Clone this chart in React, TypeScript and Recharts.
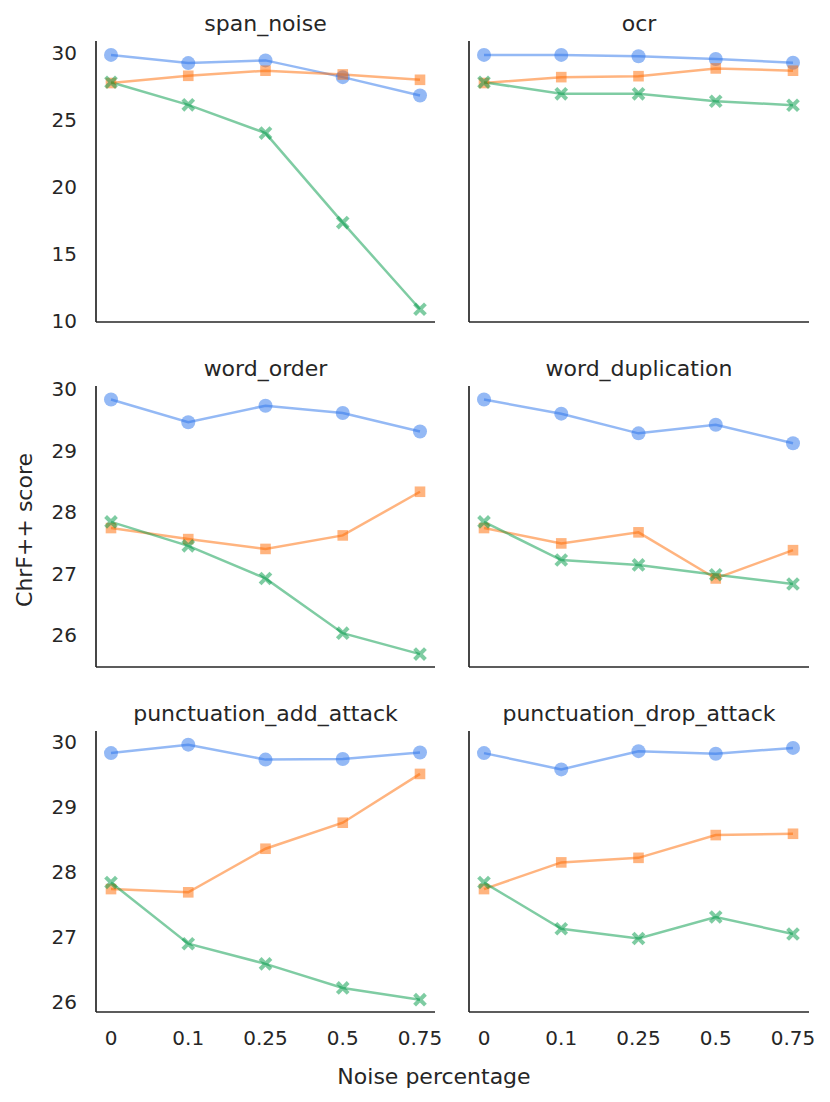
import React from 'react';
import { LineChart, Line, XAxis, YAxis } from 'recharts';

// ---------- data ----------
const categories = ['0', '0.1', '0.25', '0.5', '0.75'];
const panelTitles = ['span_noise', 'ocr', 'word_order', 'word_duplication', 'punctuation_add_attack', 'punctuation_drop_attack'];

const spanNoiseBlue = [29.86, 29.25, 29.45, 28.2, 26.83];
const spanNoiseOrange = [27.76, 28.3, 28.68, 28.4, 28.0];
const spanNoiseGreen = [27.82, 26.13, 24.02, 17.33, 10.85];

const ocrBlue = [29.86, 29.86, 29.76, 29.56, 29.28];
const ocrOrange = [27.76, 28.2, 28.27, 28.85, 28.68];
const ocrGreen = [27.82, 26.95, 26.95, 26.4, 26.1];

const wordOrderBlue = [29.83, 29.46, 29.73, 29.61, 29.31];
const wordOrderOrange = [27.74, 27.56, 27.4, 27.62, 28.33];
const wordOrderGreen = [27.84, 27.45, 26.92, 26.03, 25.69];

const wordDupBlue = [29.83, 29.6, 29.28, 29.42, 29.12];
const wordDupOrange = [27.74, 27.49, 27.67, 26.92, 27.38];
const wordDupGreen = [27.84, 27.22, 27.14, 26.98, 26.83];

const punctAddBlue = [29.83, 29.96, 29.73, 29.74, 29.84];
const punctAddOrange = [27.74, 27.69, 28.36, 28.76, 29.51];
const punctAddGreen = [27.84, 26.9, 26.59, 26.22, 26.04];

const punctDropBlue = [29.83, 29.58, 29.86, 29.82, 29.91];
const punctDropOrange = [27.74, 28.15, 28.22, 28.57, 28.59];
const punctDropGreen = [27.84, 27.13, 26.98, 27.31, 27.05];

const rowDomains: [number, number][] = [[9.9, 30.9], [25.48, 30.05], [25.85, 30.17]];
const rowTicks = [[10, 15, 20, 25, 30], [26, 27, 28, 29, 30], [26, 27, 28, 29, 30]];

const blueSeries = [spanNoiseBlue, ocrBlue, wordOrderBlue, wordDupBlue, punctAddBlue, punctDropBlue];
const orangeSeries = [spanNoiseOrange, ocrOrange, wordOrderOrange, wordDupOrange, punctAddOrange, punctDropOrange];
const greenSeries = [spanNoiseGreen, ocrGreen, wordOrderGreen, wordDupGreen, punctAddGreen, punctDropGreen];

// ---------- style ----------
const FONT = 'DejaVu Sans, Verdana, sans-serif';
const TEXT = '#262626';
const BLUE = '#2a73eb';
const ORANGE = '#ff6a00';
const GREEN = '#009a48';
const OP = 0.5;

const rowTops = [41, 386, 731];
const plotH = 281;
const colAxisLeft = [96, 469];
const colAxisRight = [435, 809];

const circleDot = (props: any) => {
  const { cx, cy, index } = props;
  if (cx == null || cy == null) return <g key={`c-${index}`} />;
  return <circle key={`c-${index}`} cx={cx} cy={cy} r={7} fill={BLUE} fillOpacity={OP} />;
};
const squareDot = (props: any) => {
  const { cx, cy, index } = props;
  if (cx == null || cy == null) return <g key={`s-${index}`} />;
  return <rect key={`s-${index}`} x={cx - 5.3} y={cy - 5.3} width={10.6} height={10.6} fill={ORANGE} fillOpacity={OP} />;
};
const xDot = (props: any) => {
  const { cx, cy, index } = props;
  if (cx == null || cy == null) return <g key={`x-${index}`} />;
  const s = 5.4;
  return (
    <g key={`x-${index}`} opacity={OP}>
      <line x1={cx - s} y1={cy - s} x2={cx + s} y2={cy + s} stroke={GREEN} strokeWidth={4} />
      <line x1={cx - s} y1={cy + s} x2={cx + s} y2={cy - s} stroke={GREEN} strokeWidth={4} />
    </g>
  );
};

function Panel({ idx }: { idx: number }) {
  const row = Math.floor(idx / 2);
  const col = idx % 2;
  const data = categories.map((c, i) => ({
    x: c,
    blue: blueSeries[idx][i],
    orange: orangeSeries[idx][i],
    green: greenSeries[idx][i],
  }));
  const svgLeft = col === 0 ? 0 : 440;
  const svgWidth = col === 0 ? 460 : 390;
  const yAxisW = colAxisLeft[col] - svgLeft;
  const marginRight = svgLeft + svgWidth - colAxisRight[col];
  const xH = row === 2 ? 50 : 2;
  const top = rowTops[row] - 10;
  const height = 10 + plotH + xH + 10;
  return (
    <div style={{ position: 'absolute', left: svgLeft, top, width: svgWidth, height }}>
      <LineChart width={svgWidth} height={height} data={data} margin={{ top: 10, right: marginRight, bottom: 10, left: 0 }}>
        <XAxis
          dataKey="x"
          type="category"
          padding={{ left: 15, right: col === 0 ? 15 : 16 }}
          axisLine={{ stroke: TEXT, strokeWidth: 1.7 }}
          tickLine={false}
          tickSize={0}
          tickMargin={19}
          height={xH}
          tick={row === 2 ? { fill: TEXT, fontSize: 20, fontFamily: FONT } : false}
          interval={0}
        />
        <YAxis
          type="number"
          domain={rowDomains[row]}
          ticks={rowTicks[row]}
          allowDataOverflow
          interval={0}
          width={yAxisW}
          axisLine={{ stroke: TEXT, strokeWidth: 1.7 }}
          tickLine={false}
          tickSize={0}
          tickMargin={19}
          tick={col === 0 ? { fill: TEXT, fontSize: 20, fontFamily: FONT } : false}
        />
        <Line dataKey="blue" stroke={BLUE} strokeOpacity={OP} strokeWidth={2.5} dot={circleDot} activeDot={false} isAnimationActive={false} />
        <Line dataKey="orange" stroke={ORANGE} strokeOpacity={OP} strokeWidth={2.5} dot={squareDot} activeDot={false} isAnimationActive={false} />
        <Line dataKey="green" stroke={GREEN} strokeOpacity={OP} strokeWidth={2.5} dot={xDot} activeDot={false} isAnimationActive={false} />
      </LineChart>
    </div>
  );
}

export default function App() {
  return (
    <div style={{ position: 'absolute', left: 0, top: 0, width: 830, height: 1102, background: '#fff' }}>
      {panelTitles.map((_, i) => (
        <Panel key={i} idx={i} />
      ))}
      <svg width={830} height={1102} style={{ position: 'absolute', left: 0, top: 0, pointerEvents: 'none' }}>
        {panelTitles.map((t, i) => {
          const row = Math.floor(i / 2);
          const col = i % 2;
          return (
            <text
              key={t}
              x={(colAxisLeft[col] + colAxisRight[col]) / 2}
              y={rowTops[row] - 10}
              textAnchor="middle"
              fontFamily={FONT}
              fontSize={22}
              fill={TEXT}
            >
              {t}
            </text>
          );
        })}
        <text x={434} y={1084} textAnchor="middle" fontFamily={FONT} fontSize={22} fill={TEXT}>
          Noise percentage
        </text>
        <text
          x={32}
          y={530}
          textAnchor="middle"
          fontFamily={FONT}
          fontSize={22}
          fill={TEXT}
          transform="rotate(-90, 32, 530)"
        >
          ChrF++ score
        </text>
      </svg>
    </div>
  );
}
